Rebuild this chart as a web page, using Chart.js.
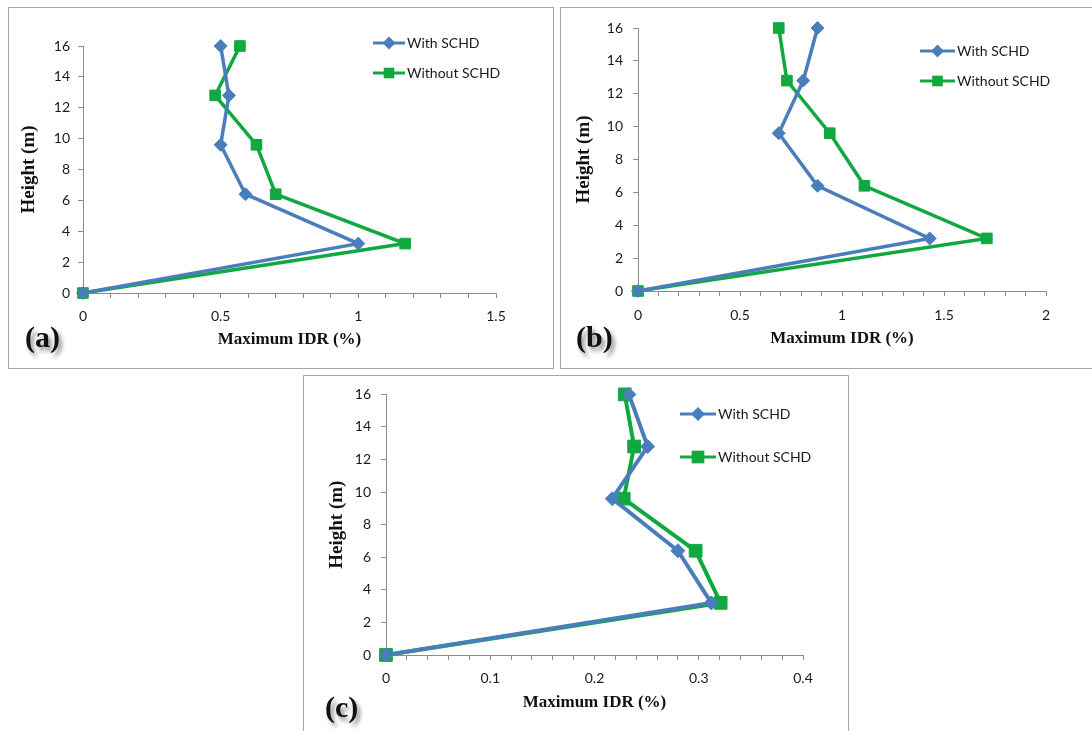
<!DOCTYPE html>
<html>
<head>
<meta charset="utf-8">
<script src="https://cdn.jsdelivr.net/npm/chart.js@4/dist/chart.umd.min.js"></script>
<style>
  html, body { margin: 0; padding: 0; background: #fff; width: 1092px; height: 731px; overflow: hidden; }
  .panel { position: absolute; border: 1px solid #a6a6a6; background: #fff; }
  canvas { position: absolute; }
  .tag {
    position: absolute; font: bold 30px "Liberation Serif", "Times New Roman", serif;
    line-height: 1; color: #111; text-shadow: 3px 4px 4px rgba(0,0,0,0.45);
  }
</style>
</head>
<body>
<div class="panel" style="left:8px;top:7px;width:544px;height:360px;"></div>
<div class="panel" style="left:560px;top:7px;width:540px;height:360px;"></div>
<div class="panel" style="left:303px;top:375px;width:544px;height:370px;"></div>

<canvas id="chartA" width="543" height="359" style="left:9px;top:8px;"></canvas>
<canvas id="chartB" width="531" height="359" style="left:561px;top:8px;"></canvas>
<canvas id="chartC" width="543" height="355" style="left:304px;top:376px;"></canvas>

<div class="tag" style="left:25px;top:322px;">(a)</div>
<div class="tag" style="left:576px;top:322px;">(b)</div>
<div class="tag" style="left:325px;top:692px;">(c)</div>

<script>
// storey heights (m)
const heights = [0, 3.2, 6.4, 9.6, 12.8, 16];

// maximum IDR (%) per panel
const idrWithA = [0, 1.00, 0.59, 0.50, 0.53, 0.50];
const idrWithoutA = [0, 1.17, 0.70, 0.63, 0.48, 0.57];

const idrWithB = [0, 1.43, 0.88, 0.69, 0.81, 0.88];
const idrWithoutB = [0, 1.71, 1.11, 0.94, 0.73, 0.69];

const idrWithC = [0, 0.312, 0.280, 0.217, 0.251, 0.233];
const idrWithoutC = [0, 0.321, 0.297, 0.228, 0.238, 0.229];

const seriesNames = ['With SCHD', 'Without SCHD'];

const BLUE = '#4a7ebb';
const GREEN = '#12a840';
const AXIS = '#8c8c8c';
const TEXT = '#1a1a1a';

Chart.defaults.font.family = 'Lato, "Open Sans", sans-serif';
Chart.defaults.color = TEXT;

function pts(xs) {
  return xs.map((v, i) => ({ x: v, y: heights[i] }));
}

function drawMarker(ctx, style, x, y, r, color) {
  ctx.fillStyle = color;
  ctx.beginPath();
  if (style === 'rectRot') {
    ctx.moveTo(x - r, y); ctx.lineTo(x, y - r); ctx.lineTo(x + r, y); ctx.lineTo(x, y + r);
  } else {
    const s = r * Math.SQRT1_2;
    ctx.rect(x - s, y - s, 2 * s, 2 * s);
  }
  ctx.closePath();
  ctx.fill();
}

// legend drawn inside the plot, two rows, line + marker + label
const insideLegend = {
  id: 'insideLegend',
  afterDraw(chart, args, opts) {
    const ctx = chart.ctx;
    ctx.save();
    chart.data.datasets.forEach((ds, i) => {
      const y = opts.y + i * opts.gap;
      ctx.strokeStyle = ds.borderColor;
      ctx.lineWidth = 3;
      ctx.beginPath();
      ctx.moveTo(opts.x, y);
      ctx.lineTo(opts.x + opts.len, y);
      ctx.stroke();
      drawMarker(ctx, ds.pointStyle, opts.x + opts.len / 2, y, ds.pointRadius, ds.borderColor);
      ctx.fillStyle = TEXT;
      ctx.font = '14px Lato, "Open Sans", sans-serif';
      ctx.textBaseline = 'middle';
      ctx.textAlign = 'left';
      ctx.fillText(ds.label, opts.x + opts.len + 2, y);
    });
    ctx.restore();
  }
};

function makeChart(id, cfg) {
  const labelStep = cfg.labelStep;
  return new Chart(document.getElementById(id), {
    type: 'scatter',
    data: {
      datasets: [
        {
          label: seriesNames[0],
          data: pts(cfg.withData),
          showLine: true,
          borderColor: BLUE,
          backgroundColor: BLUE,
          borderWidth: cfg.lineWidth,
          pointStyle: 'rectRot',
          pointRadius: cfg.diamond,
          pointBorderWidth: 1,
          clip: false,
        },
        {
          label: seriesNames[1],
          data: pts(cfg.withoutData),
          showLine: true,
          borderColor: GREEN,
          backgroundColor: GREEN,
          borderWidth: cfg.lineWidth,
          pointStyle: 'rect',
          pointRadius: cfg.square,
          pointBorderWidth: 1,
          clip: false,
        },
      ],
    },
    options: {
      responsive: false,
      animation: false,
      layout: { padding: { left: 0, top: cfg.padTop, right: cfg.padRight, bottom: 0 } },
      scales: {
        x: {
          type: 'linear',
          min: 0,
          max: cfg.xMax,
          afterFit: (s) => { s.height = cfg.xHeight; },
          border: { display: true, color: AXIS, width: 1 },
          grid: { drawOnChartArea: false, drawTicks: true, tickLength: 5, color: AXIS },
          ticks: {
            stepSize: cfg.minorStep,
            autoSkip: false,
            maxRotation: 0,
            padding: cfg.xPad,
            font: { size: 14 },
            callback: (v) => {
              const k = v / labelStep;
              return Math.abs(k - Math.round(k)) < 1e-6 ? String(+v.toFixed(2)) : '';
            },
          },
          title: {
            display: true,
            text: 'Maximum IDR (%)',
            font: { family: '"Liberation Serif", "Times New Roman", serif', size: 17, weight: 'bold' },
            color: '#111',
            padding: { top: 0, bottom: cfg.xTitlePad },
          },
        },
        y: {
          type: 'linear',
          min: 0,
          max: 16,
          afterFit: (s) => { s.width = cfg.yWidth; },
          border: { display: true, color: AXIS, width: 1 },
          grid: { drawOnChartArea: false, drawTicks: true, tickLength: 5, color: AXIS },
          ticks: { stepSize: 2, padding: cfg.yPad, font: { size: 14 } },
          title: {
            display: true,
            text: 'Height (m)',
            font: { family: '"Liberation Serif", "Times New Roman", serif', size: 19, weight: 'bold' },
            color: '#111',
            padding: { top: cfg.yTitlePad, bottom: 0 },
          },
        },
      },
      plugins: {
        legend: { display: false },
        tooltip: { enabled: false },
        insideLegend: cfg.legend,
      },
    },
    plugins: [insideLegend],
  });
}

makeChart('chartA', {
  withData: idrWithA, withoutData: idrWithoutA,
  xMax: 1.5, minorStep: 0.1, labelStep: 0.5,
  padTop: 38, padRight: 56, xHeight: 74, yWidth: 74,
  xPad: 10, yPad: 8, xTitlePad: 17, yTitlePad: 9,
  lineWidth: 3.5, diamond: 6.5, square: 7.5,
  legend: { x: 364, y: 35, gap: 30, len: 32 },
});

makeChart('chartB', {
  withData: idrWithB, withoutData: idrWithoutB,
  xMax: 2, minorStep: 0.1, labelStep: 0.5,
  padTop: 20, padRight: 46, xHeight: 76, yWidth: 77,
  xPad: 11, yPad: 10, xTitlePad: 18, yTitlePad: 12,
  lineWidth: 3.5, diamond: 6.5, square: 7.5,
  legend: { x: 359, y: 43, gap: 30, len: 35 },
});

makeChart('chartC', {
  withData: idrWithC, withoutData: idrWithoutC,
  xMax: 0.4, minorStep: 0.02, labelStep: 0.1,
  padTop: 15, padRight: 44, xHeight: 76, yWidth: 82,
  xPad: 10, yPad: 10, xTitlePad: 18, yTitlePad: 22,
  lineWidth: 4, diamond: 7, square: 9,
  legend: { x: 376, y: 38, gap: 43, len: 36 },
});
</script>
</body>
</html>
